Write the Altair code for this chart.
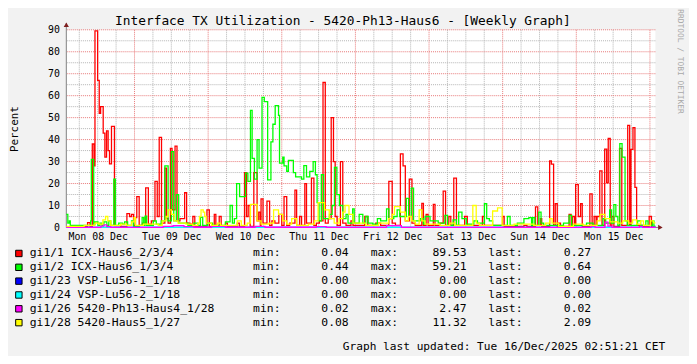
import json
import altair as alt
import pandas as pd

TITLE = "Interface TX Utilization - 5420-Ph13-Haus6 - [Weekly Graph]"
UPDATED = "Graph last updated: Tue 16/Dec/2025 02:51:21 CET"
WATERMARK = "RRDTOOL / TOBI OETIKER"

series_names = ["gi1/1 ICX-Haus6_2/3/4", "gi1/2 ICX-Haus6_1/3/4", "gi1/23 VSP-Lu56-1_1/18",
                "gi1/24 VSP-Lu56-2_1/18", "gi1/26 5420-Ph13-Haus4_1/28", "gi1/28 5420-Haus5_1/27"]
series_colors = ["#FF0000", "#00FF00", "#0000FF", "#00FFFF", "#FF00FF", "#FFFF00"]
min_vals = ["0.04", "0.44", "0.00", "0.00", "0.02", "0.08"]
max_vals = ["89.53", "59.21", "0.00", "0.00", "2.47", "11.32"]
last_vals = ["0.27", "0.64", "0.00", "0.00", "0.02", "2.09"]
day_labels = ["Mon 08 Dec", "Tue 09 Dec", "Wed 10 Dec", "Thu 11 Dec",
              "Fri 12 Dec", "Sat 13 Dec", "Sun 14 Dec", "Mon 15 Dec"]

# hours since Mon 08 Dec 00:00
x_start, x_end = 1.77, 193.78

# (hour, percent) step points
red = [(1.77,0.3),(5.96,0.5),(8.70,2.2),(9.50,0.5),(10.24,38),(10.79,28),(11.11,89.53),(11.98,67),(12.50,52),(12.95,55),(13.79,43),(14.34,32),(14.88,44),(15.40,35),(15.85,29),(16.49,46),(17.46,0.8),(19.49,0.5),(21.52,6.3),(22.39,5),(23.03,6),(23.68,1),(24.32,4.5),(24.74,14),(25.52,1),(26.58,2),(27.64,18),(28.51,1.5),(29.48,3),(30.67,21),(31.41,5),(32.05,41),(32.80,2),(33.89,27),(34.41,4),(34.95,2),(35.70,36),(36.24,8),(37.21,37),(37.85,3),(38.82,4),(40.33,15.8),(40.98,2),(42.04,1.5),(43.01,5),(43.65,0.5),(47.61,8),(48.39,0.5),(50.00,6),(50.51,0.5),(51.61,5),(52.25,0.5),(53.64,2),(54.28,0.5),(57.50,2),(58.15,0.5),(59.86,25),(60.50,5),(61.05,10),(61.69,0.5),(62.89,25),(63.95,3),(64.50,7),(65.01,1),(65.24,13),(65.88,2),(67.17,12),(68.04,1),(68.78,3),(69.75,2),(71.04,6),(72.00,1),(72.74,14),(73.61,1),(74.58,2),(76.29,17),(76.84,1),(77.80,5),(78.45,1),(79.51,20),(80.06,2),(81.67,22.5),(82.47,1),(83.28,2),(84.25,3),(85.44,66),(86.18,2),(87.14,4),(88.11,50),(88.85,30),(89.40,5),(90.04,1),(91.11,30),(91.88,2),(92.94,1),(94.55,3),(95.20,1),(99.06,5),(100.03,1),(102.61,2),(104.22,1),(106.89,21),(107.99,2),(109.05,1),(110.66,33.5),(111.53,28),(112.27,3),(113.56,22),(114.43,2),(115.49,1),(117.65,11),(118.17,1),(119.04,6),(119.68,1),(121.39,10.5),(121.94,1),(123.55,2),(124.61,16.5),(125.38,1),(126.45,5),(127.09,1),(128.06,22.5),(128.93,1),(131.60,5),(132.47,1),(137.40,5),(138.05,1),(143.94,5),(144.49,0.5),(150.93,1),(151.90,0.5),(154.70,9.4),(155.44,1),(156.31,4),(156.73,0.5),(159.31,30.3),(159.86,28.8),(160.60,1),(161.14,10.8),(161.79,0.5),(162.21,2),(162.85,0.5),(165.65,5.9),(166.30,0.5),(166.81,5),(167.46,1),(167.78,19.5),(168.65,5),(169.39,10.8),(169.94,0.5),(172.42,15.3),(173.16,1),(173.81,5),(174.45,1),(174.77,5),(175.64,25.8),(176.38,1),(177.25,35.7),(177.90,20.3),(178.41,40.5),(179.06,1),(179.60,5),(180.25,0.5),(182.09,36),(182.83,1),(184.76,46.5),(185.40,1),(185.82,35.6),(186.47,45.5),(187.11,18.3),(187.66,1),(189.59,0.5),(191.75,5),(192.49,0.27),(193.78,0.27)]

green = [(1.77,6),(2.26,2),(2.74,3),(3.06,1),(9.18,1),(9.73,3),(9.92,31),(10.70,1.5),(11.11,2.5),(12.08,1),(12.73,2),(13.37,1),(14.01,2.5),(14.98,1),(15.62,3),(16.27,1),(17.24,22),(17.78,1),(18.85,2),(20.14,1.5),(20.78,2.5),(21.75,1),(23.03,3),(23.68,0.5),(25.61,1),(26.48,4.5),(27.00,1),(27.45,5.2),(27.96,1),(30.12,3),(31.09,1.5),(32.70,3),(33.89,28),(34.95,3),(36.02,34.5),(36.79,3),(37.63,15),(38.40,2),(41.40,1),(43.33,2),(44.62,1),(45.49,4.6),(46.23,1),(47.84,2),(49.45,1),(53.64,2.5),(55.15,10),(55.90,2),(56.54,4),(57.28,20),(58.25,14),(60.18,24.7),(60.95,21),(61.79,53.3),(62.34,31.5),(63.08,22),(63.95,40),(64.59,27),(65.56,59.21),(66.30,57.3),(67.40,21.7),(68.46,39),(69.10,47),(69.85,55.5),(70.94,51),(71.26,29.3),(72.32,32),(72.74,28),(73.61,25.6),(74.16,30.5),(75.77,25),(76.51,23),(78.45,22),(79.19,28.2),(80.06,23),(81.12,25.5),(82.22,30),(82.96,24),(83.51,11.3),(84.15,3),(84.89,24),(85.63,4),(87.56,6),(88.43,10),(89.17,27.3),(89.95,15),(90.78,10),(91.88,4),(92.94,6),(93.59,2),(95.10,8.5),(95.61,2),(97.23,6),(98.42,2),(99.39,5),(100.13,2),(101.64,1.5),(103.16,4),(104.22,3),(106.15,8.5),(106.89,4),(108.50,5),(109.60,8),(110.44,5),(112.59,13.2),(113.34,5),(114.21,17.9),(114.95,3),(117.11,4),(118.17,1.5),(118.72,5),(120.33,3),(121.94,3),(123.00,2),(125.16,5.5),(126.03,1),(127.83,3.5),(128.93,1),(129.67,7),(130.73,4),(132.15,1.5),(134.60,3),(135.79,2),(138.05,10.8),(138.79,4),(139.66,3),(140.72,1),(145.55,5),(146.42,1),(148.78,2),(150.93,4),(152.54,4.5),(153.41,1),(153.83,4.5),(154.48,1),(155.77,7),(156.51,2),(157.37,1),(163.82,2),(165.65,5.5),(166.49,1),(171.33,2),(173.48,1),(176.70,4),(177.58,2),(178.86,8),(179.51,2),(180.25,10.4),(180.89,5),(181.54,1),(182.18,38.2),(182.92,32),(183.89,3),(184.60,1),(187.98,3),(188.95,1),(190.66,3),(191.37,1),(192.81,3),(193.30,0.64),(193.78,0.64)]

blue = [(1.77,0.0),(193.78,0.0)]
cyan = [(1.77,0.0),(193.78,0.0)]

magenta = [(1.77,0.05),(13.05,0.6),(13.92,1.2),(14.98,0.4),(16.27,0.05),(33.34,0.5),(36.57,0.8),(40.11,0.4),(43.33,0.1),(49.13,0.5),(53.64,0.1),(63.30,0.5),(66.53,0.1),(83.28,0.4),(86.50,0.05),(106.15,0.8),(110.98,0.05),(172.84,0.5),(174.13,0.05),(177.35,2.47),(178.31,0.6),(179.60,0.05),(188.63,0.5),(189.59,0.05),(193.78,0.02)]

yellow = [(1.77,0.5),(7.57,1),(11.11,2),(12.40,1.5),(13.69,3.5),(14.56,5),(15.30,3),(16.27,1),(19.49,1.5),(21.42,1),(23.03,2.5),(23.84,4.5),(24.32,1),(26.90,1.5),(31.73,1),(33.02,3),(34.31,5),(34.95,8),(36.02,6),(36.89,3),(38.18,2),(40.75,1.5),(43.01,1),(44.62,2),(45.17,5),(45.68,8),(46.39,7),(46.88,5),(47.36,2),(49.13,1),(51.06,2),(52.03,1),(57.50,3),(58.79,1),(60.73,2),(61.79,10.5),(63.95,3),(65.24,1.5),(67.81,2),(69.33,8),(70.94,6),(72.32,3),(73.61,1.5),(75.22,4),(76.84,1),(80.70,1.5),(82.63,3),(83.83,11.32),(85.95,8),(87.46,4),(89.08,2),(90.69,4),(91.88,7),(92.62,10),(93.91,6),(95.20,2),(99.39,1),(103.57,2),(106.80,4),(107.99,6),(108.73,9.5),(110.66,7),(112.27,3),(113.24,5),(114.21,3),(115.49,1.5),(116.78,8),(117.65,3),(118.72,1.5),(123.55,1),(126.77,2),(128.38,1),(134.27,10),(135.37,2),(136.43,1),(140.72,7.5),(142.33,8.9),(143.84,1),(147.71,1.5),(154.15,1),(158.02,2),(159.31,4),(160.11,2),(162.21,0.5),(167.04,1.5),(170.26,1),(174.77,3),(175.74,6),(177.35,4),(178.96,2.5),(181.54,2),(183.15,3),(185.08,2),(186.37,3.5),(187.66,1.5),(188.95,3),(189.91,1),(192.17,3),(193.13,2.09),(193.78,2.09)]

series_points = [red, green, blue, cyan, magenta, yellow]

rows = []
for name, pts in zip(series_names, series_points):
    for h, v in pts:
        rows.append({"series": name, "hour": h, "pct": v})
df = pd.DataFrame(rows)

FONT = "DejaVu Sans Mono"
xscale = alt.Scale(domain=[x_start, x_end], nice=False, zero=False)
yscale = alt.Scale(domain=[0, 90], nice=False, zero=False)
cscale = alt.Scale(domain=series_names, range=series_colors)

label_js = json.dumps(day_labels)
x_axis = alt.Axis(values=[12 + 24 * i for i in range(len(day_labels))],
                  labelExpr=f"{label_js}[round((datum.value - 12) / 24)]",
                  grid=False, ticks=False, domain=False, title=None,
                  labelFont=FONT, labelFontSize=10, labelColor="black",
                  labelPadding=4, labelFlush=False, labelOverlap=False)
y_axis = alt.Axis(values=list(range(0, 91, 10)), grid=False, ticks=False, domain=False,
                  title=None, labelFont=FONT, labelFontSize=10, labelColor="black",
                  labelPadding=7)


def X(field):
    return alt.X(field, scale=xscale, axis=x_axis)


def Y(field):
    return alt.Y(field, scale=yscale, axis=y_axis)


# grid
minor_h = [h for h in range(6, 193, 6) if h % 24 != 0 and x_start < h < x_end]
major_h = [h for h in range(24, 193, 24) if x_start < h < x_end]
minor_v = list(range(5, 90, 10))
major_v = list(range(10, 91, 10))


def vgrid(vals, color):
    return alt.Chart(pd.DataFrame({"h": vals})).mark_rule(
        color=color, strokeDash=[1, 1], strokeWidth=1).encode(x=X("h:Q"))


def hgrid(vals, color):
    return alt.Chart(pd.DataFrame({"v": vals})).mark_rule(
        color=color, strokeDash=[1, 1], strokeWidth=1).encode(y=Y("v:Q"))


layers = [
    vgrid(minor_h, "#B4B4B4"),
    hgrid(minor_v, "#B4B4B4"),
    vgrid(major_h, "#E87878"),
    hgrid(major_v, "#E87878"),
]

# axis lines
axis_df = pd.DataFrame({"h": [x_start], "h2": [195.0], "v": [0.0], "v2": [93.0]})
layers.append(alt.Chart(axis_df).mark_rule(color="#808080", strokeWidth=1).encode(
    x=X("h:Q"), y=Y("v:Q"), y2="v2:Q"))
layers.append(alt.Chart(axis_df).mark_rule(color="#808080", strokeWidth=1).encode(
    x=X("h:Q"), x2="h2:Q", y=Y("v:Q")))

# data lines
for name in series_names:
    layers.append(alt.Chart(df).transform_filter(alt.datum.series == name).mark_line(
        interpolate="step-after", strokeWidth=1.3).encode(
        x=X("hour:Q"), y=Y("pct:Q"),
        color=alt.Color("series:N", scale=cscale, legend=None)))

# arrows
arrow_df = pd.DataFrame({"h": [x_start, 195.4], "v": [92.3, 0.0],
                         "shape": ["triangle-up", "triangle-right"]})
layers.append(alt.Chart(arrow_df).mark_point(filled=True, size=28, color="#7F1F1F", opacity=1).encode(
    x=X("h:Q"), y=Y("v:Q"), shape=alt.Shape("shape:N", scale=None)))


# texts
def text_layer(text, x, y, size, align="left", angle=0, color="black"):
    return alt.Chart(pd.DataFrame({"t": [text]})).mark_text(
        font=FONT, fontSize=size, align=align, baseline="middle", angle=angle, color=color).encode(
        text="t:N", x=alt.value(x), y=alt.value(y))


layers.append(text_layer(TITLE, 279.8, -9, 13, align="center"))
layers.append(text_layer("Percent", -51.5, 100.5, 11, align="center", angle=270))
layers.append(text_layer(WATERMARK, 621, 32, 8, align="center", angle=90, color="#A8A8A8"))
layers.append(text_layer(UPDATED, 279.7, 321.3, 11.3, align="left"))

leg = pd.DataFrame({"row": list(range(len(series_names))), "series": series_names,
                    "mn": min_vals, "mx": max_vals, "last": last_vals})
legbase = alt.Chart(leg).transform_calculate(ypx="226.3 + 14 * datum.row")
ypx = alt.Y("ypx:Q", scale=None, axis=None)

layers.append(legbase.mark_square(size=42, stroke="black", strokeWidth=1, opacity=1).encode(
    x=alt.value(-48), y=ypx, fill=alt.Fill("series:N", scale=cscale, legend=None)))


def legtext(field, x, align, const=None):
    ch = legbase
    if const is not None:
        ch = ch.transform_calculate(lbl=f"'{const}'")
        field = "lbl"
    return ch.mark_text(font=FONT, fontSize=11.5, align=align, baseline="middle", color="black").encode(
        text=f"{field}:N", x=alt.value(x), y=ypx)


layers.append(legtext("series", -37, "left"))
layers.append(legtext(None, 189, "left", const="min:"))
layers.append(legtext("mn", 285.7, "right"))
layers.append(legtext(None, 308, "left", const="max:"))
layers.append(legtext("mx", 405, "right"))
layers.append(legtext(None, 427, "left", const="last:"))
layers.append(legtext("last", 531, "right"))

chart = alt.layer(*layers).properties(
    width=596, height=200,
    autosize=alt.AutoSizeParams(type="none"),
    padding={"left": 59, "top": 20, "right": 34, "bottom": 128},
    background="#F2F2F2",
).configure_view(strokeWidth=0, fill="white")

chart.save("out.html", embed_options={"renderer": "svg", "actions": False})
